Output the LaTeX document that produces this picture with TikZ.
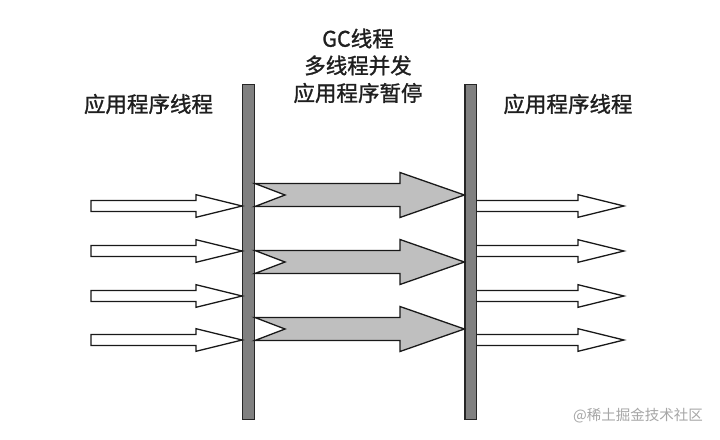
\documentclass[tikz,border=0pt]{standalone}
\usepackage{fontspec}
\newfontfamily\cjk{Noto Sans CJK SC}
\newfontfamily\cjkb[FakeBold=1.2]{Noto Sans CJK SC}
\begin{document}
\begin{tikzpicture}[x=1pt,y=-1pt,
  barstyle/.style={draw=black!85,fill=black!50,line width=1.3pt,minimum width=11.5pt,minimum height=335pt,inner sep=0pt},
  whitearrow/.style={draw=black!90,fill=white,line width=1.3pt,line join=miter},
  grayarrow/.style={draw=black!90,fill=black!25,line width=1.3pt,line join=miter},
  lbl/.style={font=\cjkb\fontsize{21.5}{27.5}\selectfont,text=black!88,align=center,inner sep=0pt},
  wm/.style={font=\cjk\fontsize{14.5}{16}\selectfont,text=black!35,inner sep=0pt}]
\useasboundingbox (0,0) rectangle (720,439);
\fill[white] (0,0) rectangle (720,439);
% bars
\node[barstyle,anchor=north] (lbar) at (248.5,84) {};
\node[barstyle,anchor=north] (rbar) at (470.8,84) {};
% labels
\node[lbl] (ltext) at (148.5,104) {应用程序线程};
\node[lbl] (rtext) at (568,104) {应用程序线程};
\node[lbl] (gc1) at (358,38.5) {GC线程};
\node[lbl] (gc2) at (358,65.5) {多线程并发};
\node[lbl] (gc3) at (358,93) {应用程序暂停};
\node[wm] (wmark) at (638,415.5) {@稀土掘金技术社区};
% left input arrows
\foreach \yc in {206,251,296,340}{
  \draw[whitearrow] (91,\yc-5.5) -- (196,\yc-5.5) -- (196,\yc-11.3) -- (lbar.west |- 0,\yc) -- (196,\yc+11.3) -- (196,\yc+5.5) -- (91,\yc+5.5) -- cycle;
}
% right output arrows
\foreach \yc in {206,251,296,340}{
  \draw[whitearrow] (rbar.east |- 0,\yc-5.5) -- (578,\yc-5.5) -- (578,\yc-11.3) -- (624,\yc) -- (578,\yc+11.3) -- (578,\yc+5.5) -- (rbar.east |- 0,\yc+5.5);
}
% gray GC arrows
\foreach \yc in {195,262,329}{
  \draw[grayarrow] (lbar.east |- 0,\yc-11.5) -- (400,\yc-11.5) -- (400,\yc-22.5) -- (rbar.west |- 0,\yc) -- (400,\yc+22.5) -- (400,\yc+11.5) -- (lbar.east |- 0,\yc+11.5) -- (285,\yc) -- cycle;
}
\end{tikzpicture}
\end{document}
